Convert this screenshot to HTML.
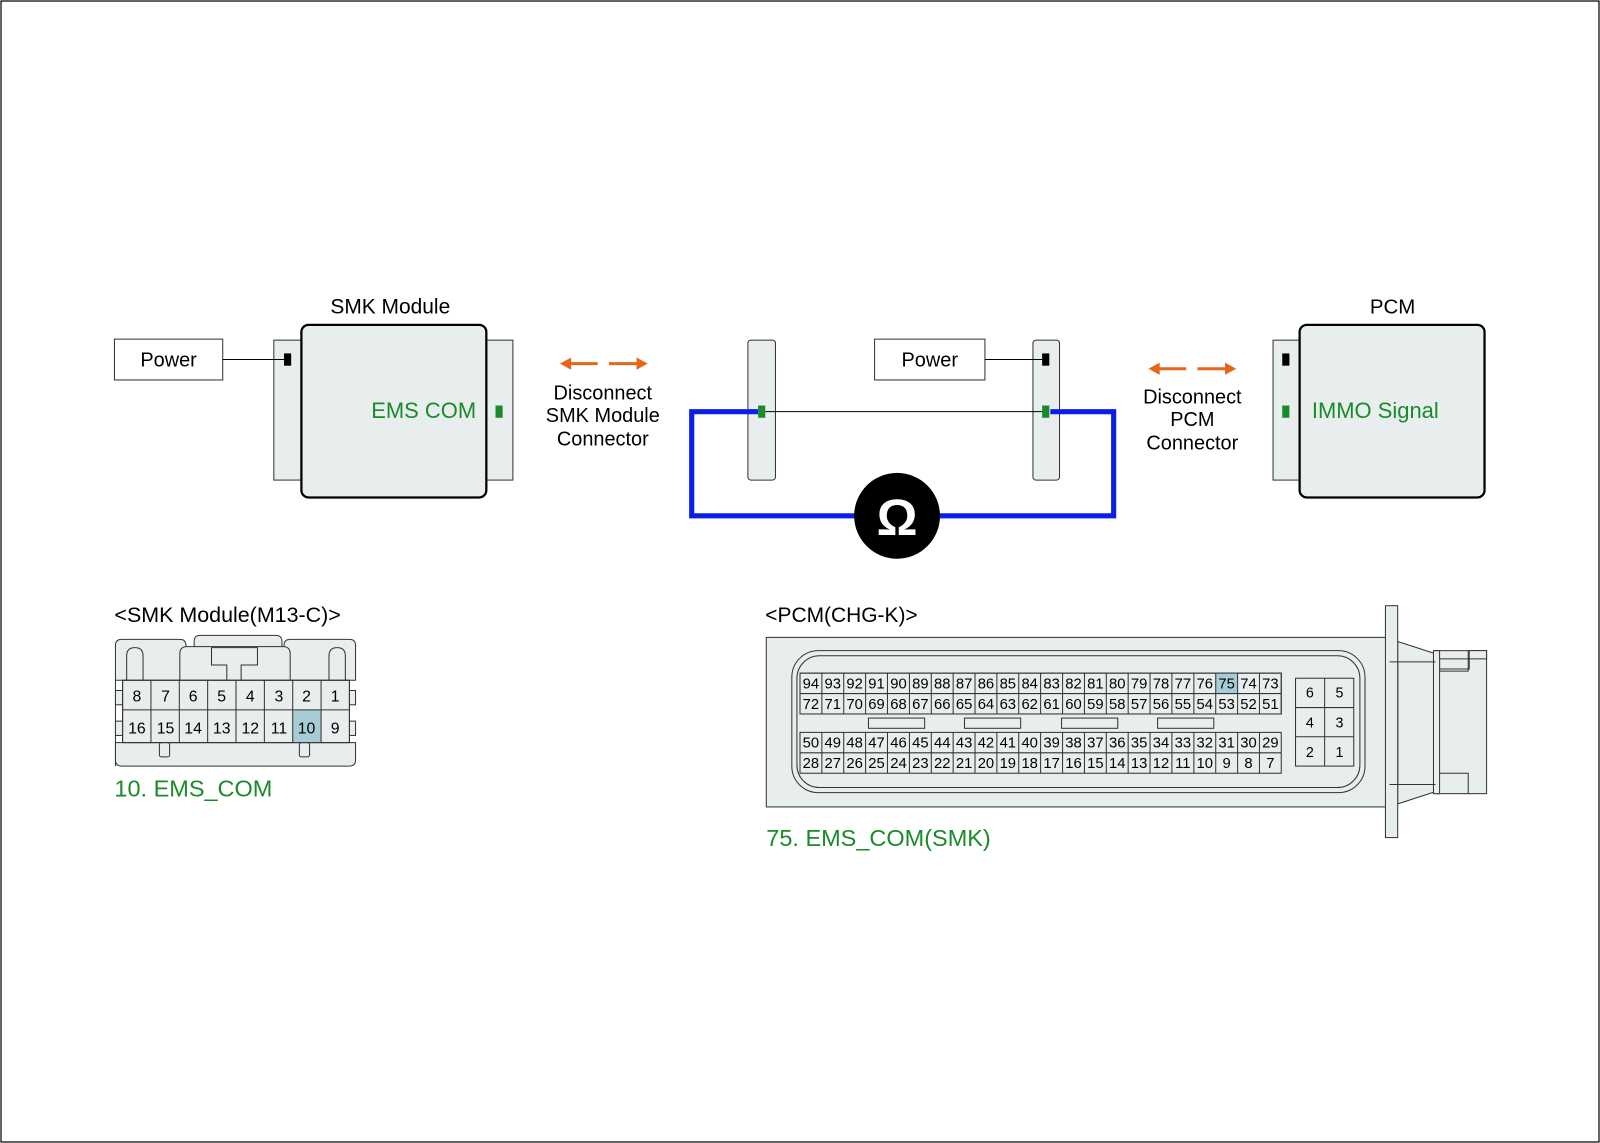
<!DOCTYPE html>
<html><head><meta charset="utf-8"><style>
html,body{margin:0;padding:0;background:#fff}
svg{display:block}
text{font-family:"Liberation Sans",sans-serif}
</style></head><body>
<svg width="1600" height="1143" viewBox="0 0 1566 1119" preserveAspectRatio="none" xmlns="http://www.w3.org/2000/svg">
<rect x="1" y="1" width="1564" height="1117" fill="#fff" stroke="#000" stroke-width="1.2"/>

<!-- SMK module -->
<text x="382" y="307" font-size="20.5" text-anchor="middle">SMK Module</text>
<rect x="268" y="333" width="27" height="137" fill="#e8eeee" stroke="#333" stroke-width="1"/>
<rect x="476" y="333" width="26" height="137" fill="#e8eeee" stroke="#333" stroke-width="1"/>
<rect x="295" y="318" width="181" height="169" rx="7" fill="#e8eeee" stroke="#000" stroke-width="2.2"/>
<rect x="278" y="346" width="7" height="12" fill="#000"/>
<rect x="485" y="397" width="7" height="12" fill="#1a8a2a"/>
<text x="466" y="409" font-size="21.5" text-anchor="end" fill="#1a8a2a">EMS COM</text>
<rect x="112" y="332" width="106" height="40" fill="#fff" stroke="#333"/>
<text x="165" y="359" font-size="19.5" text-anchor="middle">Power</text>
<line x1="218" y1="352" x2="278" y2="352" stroke="#000" stroke-width="1"/>

<!-- left arrows -->
<line x1="556" y1="356" x2="585" y2="356" stroke="#e8661a" stroke-width="3"/>
<path d="M548,356 L559,350 L559,362 Z" fill="#e8661a"/>
<line x1="596" y1="356" x2="625" y2="356" stroke="#e8661a" stroke-width="3"/>
<path d="M634,356 L623,350 L623,362 Z" fill="#e8661a"/>
<text x="590" y="391" font-size="19.5" text-anchor="middle">Disconnect</text>
<text x="590" y="413" font-size="19.5" text-anchor="middle">SMK Module</text>
<text x="590" y="436" font-size="19.5" text-anchor="middle">Connector</text>

<!-- middle connectors -->
<rect x="732" y="333" width="27" height="137" rx="3" fill="#e8eeee" stroke="#333"/>
<rect x="1011" y="333" width="26" height="137" rx="3" fill="#e8eeee" stroke="#333"/>
<line x1="749" y1="403" x2="1020" y2="403" stroke="#000" stroke-width="1"/>
<rect x="856" y="332" width="108" height="40" fill="#fff" stroke="#333"/>
<text x="910" y="359" font-size="19.5" text-anchor="middle">Power</text>
<line x1="964" y1="352" x2="1020" y2="352" stroke="#000" stroke-width="1"/>
<path d="M742,403 L677,403 L677,505 L840,505 M916,505 L1090,505 L1090,403 L1028,403" fill="none" stroke="#0a1ee6" stroke-width="5"/>
<rect x="742" y="397" width="7" height="12" fill="#1a8a2a"/>
<rect x="1020" y="346" width="7" height="12" fill="#000"/>
<rect x="1020" y="397" width="7" height="12" fill="#1a8a2a"/>
<circle cx="878" cy="505" r="42" fill="#000"/>
<text x="878" y="524" font-size="50" font-weight="bold" text-anchor="middle" fill="#fff">Ω</text>

<!-- right arrows -->
<line x1="1132" y1="361" x2="1161" y2="361" stroke="#e8661a" stroke-width="3"/>
<path d="M1124,361 L1135,355 L1135,367 Z" fill="#e8661a"/>
<line x1="1172" y1="361" x2="1201" y2="361" stroke="#e8661a" stroke-width="3"/>
<path d="M1210,361 L1199,355 L1199,367 Z" fill="#e8661a"/>
<text x="1167" y="395" font-size="19.5" text-anchor="middle">Disconnect</text>
<text x="1167" y="417" font-size="19.5" text-anchor="middle">PCM</text>
<text x="1167" y="440" font-size="19.5" text-anchor="middle">Connector</text>

<!-- PCM -->
<text x="1363" y="307" font-size="20" text-anchor="middle">PCM</text>
<rect x="1246" y="333" width="26" height="137" fill="#e8eeee" stroke="#333"/>
<rect x="1272" y="318" width="181" height="169" rx="7" fill="#e8eeee" stroke="#000" stroke-width="2.2"/>
<rect x="1255" y="346" width="7" height="12" fill="#000"/>
<rect x="1255" y="397" width="7" height="12" fill="#1a8a2a"/>
<text x="1284" y="409" font-size="21.5" fill="#1a8a2a">IMMO Signal</text>

<!-- SMK connector -->
<text x="112" y="609" font-size="21">&lt;SMK Module(M13-C)&gt;</text>
<g fill="#e8eeee" stroke="#333" stroke-width="1">
<path d="M113,750 L113,632 Q113,626 119,626 L176,626 Q182,626 182,632 L182,666 L113,666 Z"/>
<path d="M190,634 L190,628 Q190,622 196,622 L270,622 Q276,622 276,628 L276,634 Z"/>
<path d="M278,666 L278,632 Q278,626 284,626 L342,626 Q348,626 348,632 L348,666 Z"/>
<path d="M176,666 L176,640 Q176,633 183,633 L277,633 Q284,633 284,640 L284,666 Z"/>
<path d="M207,634 L207,651 L222,651 L222,666 L236,666 L236,651 L252,651 L252,634 Z"/>
<path d="M124,666 L124,642 Q124,634 132,634 Q140,634 140,642 L140,666 Z"/>
<path d="M322,666 L322,642 Q322,634 330,634 Q338,634 338,642 L338,666 Z"/>
<path d="M113,727 L348,727 L348,744 Q348,750 342,750 L119,750 Q113,750 113,744 Z"/>
<rect x="156" y="727" width="10" height="14" rx="2"/>
<rect x="293" y="727" width="10" height="14" rx="2"/>
<rect x="113" y="676" width="8" height="14"/>
<rect x="341" y="676" width="7" height="14"/>
<rect x="113" y="706" width="8" height="14"/>
<rect x="341" y="706" width="7" height="14"/>
<rect x="120" y="666" width="222" height="61"/>
</g>
<rect x="286.5" y="695" width="27.75" height="32" fill="#a8ccd6"/>
<g stroke="#333" stroke-width="1">
<line x1="120" y1="695" x2="342" y2="695"/>
<line x1="147.75" y1="666" x2="147.75" y2="727"/><line x1="175.5" y1="666" x2="175.5" y2="727"/>
<line x1="203.25" y1="666" x2="203.25" y2="727"/><line x1="231" y1="666" x2="231" y2="727"/>
<line x1="258.75" y1="666" x2="258.75" y2="727"/><line x1="286.5" y1="666" x2="286.5" y2="727"/>
<line x1="314.25" y1="666" x2="314.25" y2="727"/>
<rect x="120" y="666" width="222" height="61" fill="none"/>
</g>
<g font-size="15.5" text-anchor="middle">
<text x="134" y="687">8</text><text x="162" y="687">7</text><text x="189" y="687">6</text><text x="217" y="687">5</text>
<text x="245" y="687">4</text><text x="273" y="687">3</text><text x="300" y="687">2</text><text x="328" y="687">1</text>
<text x="134" y="718">16</text><text x="162" y="718">15</text><text x="189" y="718">14</text><text x="217" y="718">13</text>
<text x="245" y="718">12</text><text x="273" y="718">11</text><text x="300" y="718">10</text><text x="328" y="718">9</text>
</g>
<text x="112" y="780" font-size="23" fill="#1a8a2a">10. EMS_COM</text>

<!-- PCM connector -->
<text x="749" y="609" font-size="20.5">&lt;PCM(CHG-K)&gt;</text>
<g fill="#e8eeee" stroke="#333" stroke-width="1">
<path d="M1368,628 L1405,640 L1405,775 L1368,787 Z"/>
<rect x="1405" y="637" width="50" height="140"/>
<path d="M1409,655 L1438,655 L1438,637 L1455,637 L1455,645 L1409,645 Z" fill="#e8eeee"/>
<rect x="1409" y="657" width="30" height="100" stroke="none"/>
<path d="M1409,657 L1437,657 L1437,637 M1409,757 L1437,757 L1437,777" fill="none"/>
<rect x="1403" y="637" width="6" height="140"/>
<rect x="1360" y="648" width="8" height="120"/>
<rect x="750" y="624" width="607" height="166"/>
<rect x="1356" y="593" width="12" height="227"/>
<rect x="775" y="637" width="561" height="139" rx="26"/>
<rect x="780" y="642" width="551" height="129" rx="22"/>
<rect x="1268" y="664" width="57" height="86"/>
</g>
<g stroke="#333" stroke-width="1">
<line x1="1360" y1="648" x2="1405" y2="648"/><line x1="1360" y1="768" x2="1405" y2="768"/>
<line x1="1296.5" y1="664" x2="1296.5" y2="750"/>
<line x1="1268" y1="692.7" x2="1325" y2="692.7"/><line x1="1268" y1="721.3" x2="1325" y2="721.3"/>
</g>
<g font-size="14" text-anchor="middle">
<text x="1282" y="683">6</text><text x="1311" y="683">5</text>
<text x="1282" y="712">4</text><text x="1311" y="712">3</text>
<text x="1282" y="741">2</text><text x="1311" y="741">1</text>
</g>
<rect x="783" y="659" width="471" height="40" fill="#e8eeee" stroke="#333"/>
<rect x="783" y="717" width="471" height="40" fill="#e8eeee" stroke="#333"/>
<rect x="1189.9" y="659" width="21.4" height="20" fill="#a8ccd6"/>
<g fill="#e8eeee" stroke="#333">
<rect x="850" y="703" width="55" height="10"/><rect x="944" y="703" width="55" height="10"/>
<rect x="1039" y="703" width="55" height="10"/><rect x="1133" y="703" width="55" height="10"/>
</g>
<g stroke="#333" stroke-width="1">
<line x1="783" y1="679" x2="1254" y2="679"/><line x1="783" y1="737" x2="1254" y2="737"/>
<rect x="783" y="659" width="471" height="40" fill="none"/>
<path d="M804.4,659V699M825.8,659V699M847.2,659V699M868.6,659V699M890.1,659V699M911.5,659V699M932.9,659V699M954.3,659V699M975.7,659V699M997.1,659V699M1018.5,659V699M1040.0,659V699M1061.4,659V699M1082.8,659V699M1104.2,659V699M1125.6,659V699M1147.0,659V699M1168.5,659V699M1189.9,659V699M1211.3,659V699M1232.7,659V699"/>
<path d="M804.4,717V757M825.8,717V757M847.2,717V757M868.6,717V757M890.1,717V757M911.5,717V757M932.9,717V757M954.3,717V757M975.7,717V757M997.1,717V757M1018.5,717V757M1040.0,717V757M1061.4,717V757M1082.8,717V757M1104.2,717V757M1125.6,717V757M1147.0,717V757M1168.5,717V757M1189.9,717V757M1211.3,717V757M1232.7,717V757"/>
</g>
<g font-size="14.5" text-anchor="middle">
<text y="674"><tspan x="793.7">94</tspan><tspan x="815.1">93</tspan><tspan x="836.5">92</tspan><tspan x="857.9">91</tspan><tspan x="879.4">90</tspan><tspan x="900.8">89</tspan><tspan x="922.2">88</tspan><tspan x="943.6">87</tspan><tspan x="965.0">86</tspan><tspan x="986.4">85</tspan><tspan x="1007.8">84</tspan><tspan x="1029.3">83</tspan><tspan x="1050.7">82</tspan><tspan x="1072.1">81</tspan><tspan x="1093.5">80</tspan><tspan x="1114.9">79</tspan><tspan x="1136.3">78</tspan><tspan x="1157.7">77</tspan><tspan x="1179.2">76</tspan><tspan x="1200.6">75</tspan><tspan x="1222.0">74</tspan><tspan x="1243.4">73</tspan></text>
<text y="694"><tspan x="793.7">72</tspan><tspan x="815.1">71</tspan><tspan x="836.5">70</tspan><tspan x="857.9">69</tspan><tspan x="879.4">68</tspan><tspan x="900.8">67</tspan><tspan x="922.2">66</tspan><tspan x="943.6">65</tspan><tspan x="965.0">64</tspan><tspan x="986.4">63</tspan><tspan x="1007.8">62</tspan><tspan x="1029.3">61</tspan><tspan x="1050.7">60</tspan><tspan x="1072.1">59</tspan><tspan x="1093.5">58</tspan><tspan x="1114.9">57</tspan><tspan x="1136.3">56</tspan><tspan x="1157.7">55</tspan><tspan x="1179.2">54</tspan><tspan x="1200.6">53</tspan><tspan x="1222.0">52</tspan><tspan x="1243.4">51</tspan></text>
<text y="732"><tspan x="793.7">50</tspan><tspan x="815.1">49</tspan><tspan x="836.5">48</tspan><tspan x="857.9">47</tspan><tspan x="879.4">46</tspan><tspan x="900.8">45</tspan><tspan x="922.2">44</tspan><tspan x="943.6">43</tspan><tspan x="965.0">42</tspan><tspan x="986.4">41</tspan><tspan x="1007.8">40</tspan><tspan x="1029.3">39</tspan><tspan x="1050.7">38</tspan><tspan x="1072.1">37</tspan><tspan x="1093.5">36</tspan><tspan x="1114.9">35</tspan><tspan x="1136.3">34</tspan><tspan x="1157.7">33</tspan><tspan x="1179.2">32</tspan><tspan x="1200.6">31</tspan><tspan x="1222.0">30</tspan><tspan x="1243.4">29</tspan></text>
<text y="752"><tspan x="793.7">28</tspan><tspan x="815.1">27</tspan><tspan x="836.5">26</tspan><tspan x="857.9">25</tspan><tspan x="879.4">24</tspan><tspan x="900.8">23</tspan><tspan x="922.2">22</tspan><tspan x="943.6">21</tspan><tspan x="965.0">20</tspan><tspan x="986.4">19</tspan><tspan x="1007.8">18</tspan><tspan x="1029.3">17</tspan><tspan x="1050.7">16</tspan><tspan x="1072.1">15</tspan><tspan x="1093.5">14</tspan><tspan x="1114.9">13</tspan><tspan x="1136.3">12</tspan><tspan x="1157.7">11</tspan><tspan x="1179.2">10</tspan><tspan x="1200.6">9</tspan><tspan x="1222.0">8</tspan><tspan x="1243.4">7</tspan></text>
</g>
<text x="750" y="828" font-size="23" fill="#1a8a2a">75. EMS_COM(SMK)</text>
</svg>
</body></html>
